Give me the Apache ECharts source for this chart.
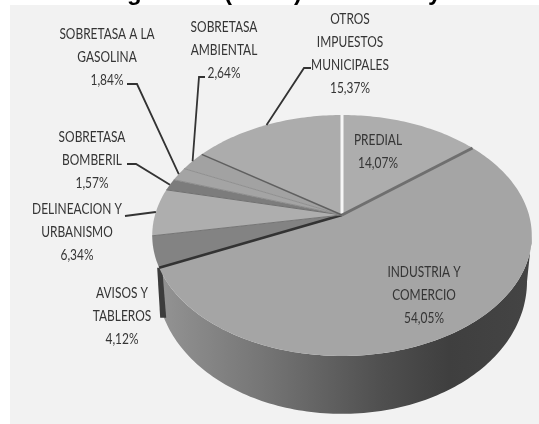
<!DOCTYPE html>
<html>
<head>
<meta charset="utf-8">
<style>
  html, body { margin: 0; padding: 0; background: #fff; }
  #main { width: 539px; height: 424px; }
</style>
<script src="https://cdn.jsdelivr.net/npm/echarts@6/dist/echarts.min.js"></script>
</head>
<body>
<div id="main"></div>
<script>
var labels = [
  'PREDIAL',
  'INDUSTRIA Y\nCOMERCIO',
  'AVISOS Y\nTABLEROS',
  'DELINEACION Y\nURBANISMO',
  'SOBRETASA\nBOMBERIL',
  'SOBRETASA A LA\nGASOLINA',
  'SOBRETASA\nAMBIENTAL',
  'OTROS\nIMPUESTOS\nMUNICIPALES'
]
var shares = [14.07, 54.05, 4.12, 6.34, 1.57, 1.84, 2.64, 15.37]
// the only part of the title still visible above the panel
var titleMarks = ['g', '(', ')', 'y']

var topColors = ['#adadad', '#a5a5a5', '#838383', '#aeaeae', '#7c7c7c', '#a4a4a4', '#a2a2a2', '#acacac']
var edgeColors = ['#f6f6f6', '#6f6f6f', '#333333', '#757575', '#707070', '#8c8c8c', '#8f8f8f', '#5f5f5f']
var edgeWidths = [3, 3, 2.5, 1, 1, 1, 1, 1.5]

// where each label sits on the page, and the elbow and end of its leader line
var labelPos = [
  [378, 151], [424, 295], [122, 316], [77, 232],
  [92, 160], [107, 57], [224, 50], [350, 53]
]
var leaders = [
  null, null, null,
  [[148, 213], [125, 216]],
  [[136, 164], [127, 164]],
  [[137, 84], [127, 84]],
  [[199, 77], [205, 77]],
  [[304, 68], [311, 68]]
]
var titleMarkX = [127, 224, 294, 428]

// the tilted disc, seen in perspective
var cx = 342, cy = 215, rx = 187, ry = 117, k = 0.17

function project (angle) {
  var x = Math.sin(angle)
  var y = -Math.cos(angle)
  var w = 1 - k * y
  return [cx + rx * x / w, cy + ry * y / w]
}

// same point on the lower rim of the disc
function projectLow (angle) {
  var p = project(angle)
  var y = -Math.cos(angle)
  return [cx + (p[0] - cx) * 0.975, cy + (p[1] - cy) * 0.975 + 43 + 18.4 * y]
}

function arc (a0, a1, fn) {
  var pts = []
  var n = Math.max(2, Math.ceil(Math.abs(a1 - a0) / 0.02))
  for (var i = 0; i <= n; i++) {
    pts.push(fn(a0 + (a1 - a0) * i / n))
  }
  return pts
}

function startAngle (index) {
  var sum = 0
  for (var i = 0; i < index; i++) sum += shares[i]
  return sum / 100 * Math.PI * 2
}

var sideGradient = new echarts.graphic.LinearGradient(160, 0, 530, 0, [
  { offset: 0, color: '#939393' },
  { offset: 0.3, color: '#737373' },
  { offset: 0.6, color: '#4f4f4f' },
  { offset: 0.78, color: '#3f3f3f' },
  { offset: 1, color: '#444444' }
], true)

var option = {
  animation: false,
  backgroundColor: '#fff',
  series: [
    {
      // side wall of the big slice and the dark cut beside it
      type: 'custom',
      coordinateSystem: 'none',
      silent: true,
      z: 1,
      data: shares,
      renderItem: function (params) {
        var i = params.dataIndex
        if (i === 1) {
          var a0 = Math.max(startAngle(1), 1.745)
          var a1 = startAngle(2)
          return {
            type: 'polygon',
            shape: { points: arc(a0, a1, project).concat(arc(a1, a0, projectLow)) },
            style: { fill: sideGradient }
          }
        }
        if (i === 2) {
          var p = project(startAngle(2))
          return {
            type: 'polygon',
            shape: { points: [[p[0] - 2, p[1]], [p[0] + 3, p[1]], [p[0] + 7, p[1] + 50], [p[0] + 1, p[1] + 50]] },
            style: { fill: '#3c3c3c' }
          }
        }
        return null
      }
    },
    {
      // top of each slice
      type: 'custom',
      coordinateSystem: 'none',
      silent: true,
      z: 2,
      data: shares,
      renderItem: function (params) {
        var i = params.dataIndex
        return {
          type: 'polygon',
          shape: { points: [[cx, cy]].concat(arc(startAngle(i), startAngle(i + 1), project)) },
          style: { fill: topColors[i] }
        }
      }
    },
    {
      // edges between slices
      type: 'custom',
      coordinateSystem: 'none',
      silent: true,
      z: 3,
      data: shares,
      renderItem: function (params) {
        var i = params.dataIndex
        return {
          type: 'polyline',
          shape: { points: [[cx, cy], project(startAngle(i))] },
          style: { fill: null, stroke: edgeColors[i], lineWidth: edgeWidths[i] }
        }
      }
    },
    {
      // leader lines and labels
      type: 'custom',
      coordinateSystem: 'none',
      silent: true,
      z: 4,
      data: shares,
      renderItem: function (params) {
        var i = params.dataIndex
        var children = [{
          type: 'text',
          x: labelPos[i][0],
          y: labelPos[i][1],
          scaleX: 0.77,
          style: {
            text: labels[i] + '\n' + shares[i].toFixed(2).replace('.', ',') + '%',
            font: '15.5px Lato',
            fill: '#353535',
            align: 'center',
            verticalAlign: 'middle',
            lineHeight: 23
          }
        }]
        if (leaders[i]) {
          var mid = project((startAngle(i) + startAngle(i + 1)) / 2)
          children.unshift({
            type: 'polyline',
            shape: { points: [mid, leaders[i][0], leaders[i][1]] },
            style: { fill: null, stroke: '#333', lineWidth: 1.8 }
          })
        }
        return { type: 'group', children: children }
      }
    }
  ],
  graphic: titleMarks.map(function (mark, i) {
    return {
      type: 'text', z: 0, left: titleMarkX[i], top: -19,
      style: { text: mark, font: 'bold 24px "Liberation Sans"', fill: '#000' }
    }
  }).concat([
    { type: 'rect', z: 0, silent: true, shape: { x: 10, y: 5, width: 529, height: 419 }, style: { fill: '#f2f2f2' } }
  ])
}

var chart = echarts.init(document.getElementById('main'))
chart.setOption(option)
</script>
</body>
</html>
